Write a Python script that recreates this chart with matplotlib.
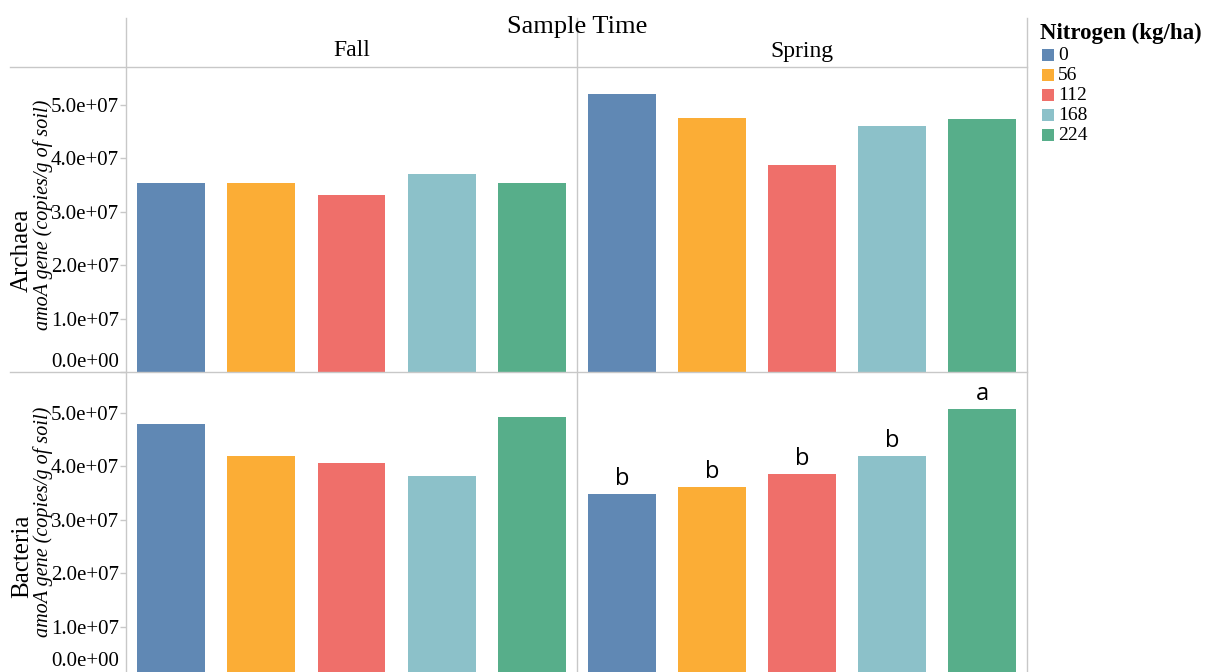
import matplotlib
matplotlib.use("Agg")
import matplotlib.pyplot as plt
from matplotlib.lines import Line2D
from matplotlib.patches import Rectangle

# ---- data ----
nitrogen = ["0", "56", "112", "168", "224"]
seasons = ["Fall", "Spring"]
organisms = ["Archaea", "Bacteria"]
archaea_fall = [3.54e7, 3.54e7, 3.31e7, 3.71e7, 3.54e7]
archaea_spring = [5.21e7, 4.76e7, 3.88e7, 4.61e7, 4.74e7]
bacteria_fall = [4.79e7, 4.19e7, 4.06e7, 3.81e7, 4.92e7]
bacteria_spring = [3.48e7, 3.61e7, 3.85e7, 4.19e7, 5.07e7]
bacteria_spring_letters = ["b", "b", "b", "b", "a"]
yticks = [0, 1e7, 2e7, 3e7, 4e7, 5e7]
ytick_labels = ["0.0e+00", "1.0e+07", "2.0e+07", "3.0e+07", "4.0e+07", "5.0e+07"]

colors = ["#6088b4", "#fbad36", "#ef6f6a", "#8cc1c9", "#57ae8a"]
grid_color = "#c8c8c8"
serif = ["Liberation Serif", "DejaVu Serif"]
TICK_FS = 15

W, H = 1208, 672
fig = plt.figure(figsize=(W / 100, H / 100), dpi=100)

def fx(px):
    return px / W

def fy(py):
    return 1 - py / H

col_x = [(126, 577), (577, 1027)]
row_y = [(67, 372, 5.71e7), (372, 680, 5.76e7)]
data = {
    (0, 0): archaea_fall, (0, 1): archaea_spring,
    (1, 0): bacteria_fall, (1, 1): bacteria_spring,
}

axes = {}
for r, (y0, y1, ytop) in enumerate(row_y):
    for c, (x0, x1) in enumerate(col_x):
        ax = fig.add_axes([fx(x0), fy(y1), fx(x1) - fx(x0), (y1 - y0) / H])
        vals = data[(r, c)]
        xs = list(range(len(nitrogen)))
        ax.bar(xs, vals, width=0.75, color=colors)
        ax.set_xlim(-0.5, len(nitrogen) - 0.5)
        ax.set_ylim(0, ytop)
        ax.set_xticks([])
        for s in ax.spines.values():
            s.set_visible(False)
        ax.patch.set_alpha(0)
        if c == 0:
            labels = list(ytick_labels)
            if r == 1:
                labels[0] = ""  # zero tick lies below the picture edge
            ax.set_yticks(yticks)
            ax.set_yticklabels(labels, fontfamily=serif, fontsize=TICK_FS)
            ax.tick_params(axis="y", length=4, width=1, color=grid_color, pad=1)
            ax.get_yticklabels()[0].set_va("bottom")
        else:
            ax.set_yticks([])
        axes[(r, c)] = ax

# zero label of the lower panel, flush with the visible bottom edge
fig.text(fx(119), fy(671), ytick_labels[0], ha="right", va="bottom",
         fontsize=TICK_FS, fontfamily=serif)

# significance letters
ax = axes[(1, 1)]
for i, (v, t) in enumerate(zip(bacteria_spring, bacteria_spring_letters)):
    ax.annotate(t, (i, v), xytext=(0, 2), textcoords="offset points",
                ha="center", va="bottom", fontsize=17,
                fontfamily=["Open Sans", "DejaVu Sans"])

# frame lines
def hline(py, xa, xb):
    fig.add_artist(Line2D([fx(xa), fx(xb)], [fy(py), fy(py)], color=grid_color, lw=1))

def vline(px, ya, yb):
    fig.add_artist(Line2D([fx(px), fx(px)], [fy(ya), fy(yb)], color=grid_color, lw=1))

hline(67, 10, 1027)
hline(372, 10, 1027)
vline(126, 18, 672)
vline(577, 18, 672)
vline(1027, 18, 672)

# headers
fig.text(fx(577), fy(27), "Sample Time", ha="center", va="center",
         fontsize=19, fontfamily=serif)
for c, (x0, x1) in enumerate(col_x):
    fig.text(fx((x0 + x1) / 2), fy(51), seasons[c], ha="center", va="center",
             fontsize=17, fontfamily=serif)

# row labels
for r in range(2):
    fig.text(fx(22), fy([250, 556][r]), organisms[r], rotation=90, ha="center",
             va="center", fontsize=18, fontfamily=serif)
    fig.text(fx(43), fy([215, 522][r]), "amoA gene (copies/g of soil)", rotation=90,
             ha="center", va="center", fontsize=14.5, fontstyle="italic",
             fontfamily=serif)

# legend
fig.text(fx(1040), fy(33), "Nitrogen (kg/ha)", ha="left", va="center",
         fontsize=16.5, fontweight="bold", fontfamily=serif)
for i, (lab, col) in enumerate(zip(nitrogen, colors)):
    yc = 55 + i * 20
    fig.add_artist(Rectangle((fx(1042), fy(yc + 6)), fx(12), 12 / H,
                             facecolor=col, edgecolor="none"))
    fig.text(fx(1058), fy(yc), lab, ha="left", va="center",
             fontsize=14, fontfamily=serif)

fig.savefig("out.png", dpi=100)
